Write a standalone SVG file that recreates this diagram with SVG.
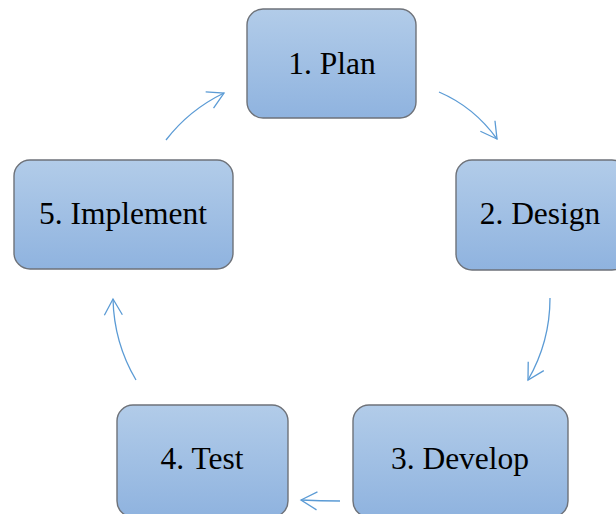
<svg xmlns="http://www.w3.org/2000/svg" width="616" height="514" viewBox="0 0 616 514">
  <defs>
    <linearGradient id="boxFill" x1="0" y1="0" x2="0" y2="1">
      <stop offset="0" stop-color="#b2cce9"/>
      <stop offset="1" stop-color="#8fb3df"/>
    </linearGradient>
    <marker id="head" viewBox="0 0 20 20" refX="18" refY="10" markerWidth="20" markerHeight="20" markerUnits="userSpaceOnUse" orient="auto">
      <path d="M2,1 L18,10 L2,19" fill="none" stroke="#5b9bd5" stroke-width="1.3"/>
    </marker>
  </defs>
  <style>
    .box { fill: url(#boxFill); stroke: #6e7279; stroke-width: 1.4; }
    .label { font-size: 31.5px; fill: #000; text-anchor: middle; }
    .conn { fill: none; stroke: #5b9bd5; stroke-width: 1.3; marker-end: url(#head); }
  </style>
  <rect width="616" height="514" fill="#ffffff"/>

  <g font-family="Times New Roman, Liberation Serif, Times, serif">
    <g id="plan">
      <rect class="box" x="247" y="9" width="169" height="109" rx="16"/>
      <text class="label" x="332" y="74">1. Plan</text>
    </g>
    <g id="design">
      <rect class="box" x="456" y="160" width="172" height="110" rx="16"/>
      <text class="label" x="540" y="224">2. Design</text>
    </g>
    <g id="develop">
      <rect class="box" x="353" y="405" width="215" height="112" rx="16"/>
      <text class="label" x="460" y="469">3. Develop</text>
    </g>
    <g id="test">
      <rect class="box" x="117" y="405" width="171" height="112" rx="16"/>
      <text class="label" x="202" y="469">4. Test</text>
    </g>
    <g id="implement">
      <rect class="box" x="14" y="160" width="219" height="109" rx="16"/>
      <text class="label" x="123" y="224">5. Implement</text>
    </g>
  </g>

  <g id="connectors">
    <path class="conn" d="M439,92 Q474,107 497,139"/>
    <path class="conn" d="M550,298 Q550,342 528,380"/>
    <path class="conn" d="M340,501 Q320,501 301,500"/>
    <path class="conn" d="M136,380 Q114,343 113,299"/>
    <path class="conn" d="M166,140 Q189,110 224,93"/>
  </g>
</svg>
